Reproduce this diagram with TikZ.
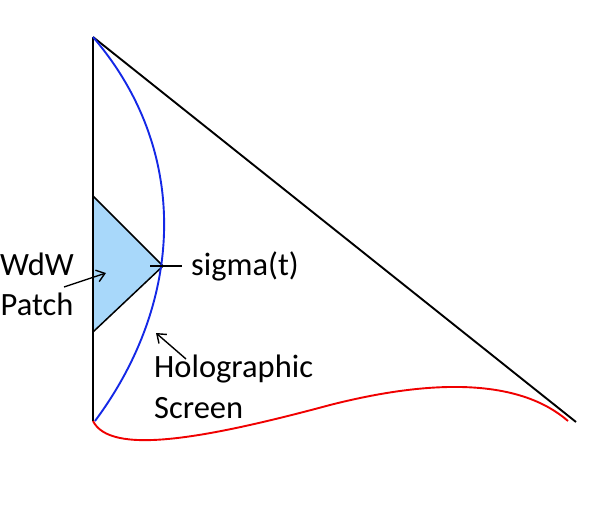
\documentclass[tikz,border=0pt]{standalone}
\usepackage{fontspec}
\setmainfont{Carlito}
\usetikzlibrary{arrows.meta}
\definecolor{patchblue}{RGB}{168,216,250}
\definecolor{screenblue}{RGB}{20,40,230}
\definecolor{redline}{RGB}{240,0,0}
\tikzset{
  edge/.style={line width=1.9pt, black},
  lbl/.style={font=\fontsize{32.5}{36}\selectfont, inner sep=0pt},
  pointer/.style={line width=1.4pt, -{Straight Barb[length=8pt,width=12pt]}},
}
\begin{document}
\begin{tikzpicture}[x=1pt,y=-1pt]
\useasboundingbox (0,0) rectangle (589,508);
\coordinate (top) at (93,37);
\coordinate (bl) at (93,421);
\coordinate (br) at (576,422);
\coordinate (tt) at (93,196);
\coordinate (tip) at (163,266);
\coordinate (tb) at (93,332);
\coordinate (sbot) at (95,421);
% patch
\draw[line width=1.5pt, fill=patchblue] (tt) -- (tip) -- (tb) -- cycle;
% frame
\draw[edge] (top) -- (bl);
\draw[edge] (top) -- (br);
% holographic screen
\draw[line width=1.9pt, screenblue] (top) .. controls (190,150) and (185,300) .. (sbot);
% red curve
\draw[line width=1.9pt, redline] (bl) .. controls (110,455) and (200,440) .. (330,405)
  .. controls (440,377) and (522,381) .. (568,421);
% labels
\node[lbl, anchor=west] (sig) at (191,266) {sigma(t)};
\coordinate (sigL) at (150,266);
\draw[line width=1.4pt] (sigL) -- (sig.west -| 182,0);
\node[lbl] (wdw) at (37,264) {WdW};
\node[lbl] (patch) at (37,304) {Patch};
\coordinate (wdwtail) at (64,287);
\coordinate (wdwtip) at (106,273);
\draw[pointer] (wdwtail) -- (wdwtip);
\node[lbl, anchor=west] (holo) at (154,369) {Holographic};
\node[lbl, anchor=west] (scr) at (154,408) {Screen};
\coordinate (holotail) at (186,359);
\coordinate (holotip) at (156,333);
\draw[pointer] (holotail) -- (holotip);
\end{tikzpicture}
\end{document}
